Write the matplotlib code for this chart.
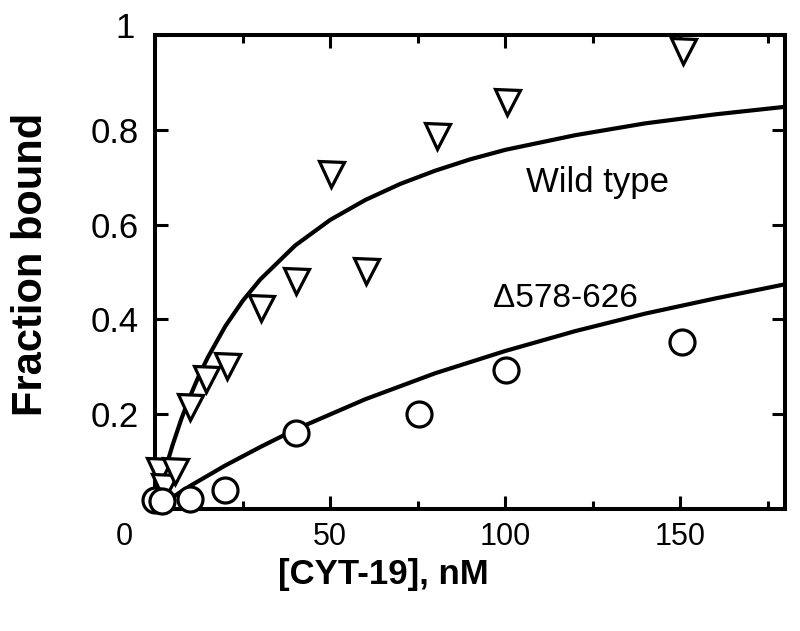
# Binding of CYT-19 to wild type vs. deletion mutant: fraction bound against concentration.

import numpy as np
import matplotlib.pyplot as plt
from matplotlib.ticker import MultipleLocator
import matplotlib.transforms as mtransforms

plt.rcParams['font.family'] = ['Liberation Sans', 'DejaVu Sans']

# data
wt_conc = [1.2, 2.5, 5.6, 9.8, 14.6, 20.4, 30.2, 40.1, 50.2, 60.1, 80.4, 100.4, 150.8]
wt_frac = [0.080, 0.045, 0.080, 0.214, 0.274, 0.302, 0.423, 0.481, 0.708, 0.501, 0.788, 0.859, 0.966]

mut_conc = [0.0, 1.8, 9.8, 19.8, 40.1, 75.4, 100.3, 150.6]
mut_frac = [0.018, 0.016, 0.020, 0.039, 0.159, 0.199, 0.293, 0.351]

# fitted curves
wt_fit_x = [3, 5, 7.5, 10, 12.5, 15, 20, 25, 30, 40, 50, 60, 70, 80, 90, 100, 120, 140, 160, 180]
wt_fit_y = [0.086, 0.135, 0.190, 0.238, 0.281, 0.319, 0.385, 0.439, 0.484, 0.556, 0.610,
            0.652, 0.686, 0.714, 0.738, 0.758, 0.789, 0.814, 0.833, 0.849]
mut_fit_x = [4.5, 10, 20, 30, 40, 60, 80, 100, 120, 140, 160, 180]
mut_fit_y = [0.022, 0.048, 0.091, 0.130, 0.167, 0.231, 0.286, 0.333, 0.375, 0.412, 0.444, 0.474]

xticks = [0, 50, 100, 150]
yticks = [0.2, 0.4, 0.6, 0.8, 1.0]
ytick_labels = ['0.2', '0.4', '0.6', '0.8', '1']

fig = plt.figure(figsize=(8, 6.31), dpi=100)
ax = fig.add_axes([0.194, 0.194, 0.7875, 0.75])

ax.plot(wt_fit_x, wt_fit_y, color='k', lw=3, zorder=2)
ax.plot(mut_fit_x, mut_fit_y, color='k', lw=3, zorder=2)
ax.plot(wt_conc, wt_frac, 'v', ms=18, mfc='white', mec='k', mew=2.3, zorder=3, clip_on=False)
ax.plot(mut_conc, mut_frac, 'o', ms=18, mfc='white', mec='k', mew=2.3, zorder=3, clip_on=False)

ax.text(106, 0.67, 'Wild type', fontsize=25, ha='left', va='baseline')
ax.text(96.4, 0.427, '\u0394578-626', fontsize=24, ha='left', va='baseline')

ax.set_xlim(0, 180)
ax.set_ylim(0, 1)
ax.set_xticks(xticks)
ax.xaxis.set_minor_locator(MultipleLocator(25))
ax.set_yticks(yticks)
ax.set_yticklabels(ytick_labels)

for s in ax.spines.values():
    s.set_linewidth(2.9)
ax.tick_params(which='both', direction='in', top=True, right=True, width=2.2)
ax.tick_params(which='major', length=9.5)
ax.tick_params(which='minor', length=5.5)
ax.tick_params(axis='x', labelsize=22, pad=10)
ax.tick_params(axis='y', labelsize=25, pad=12)

# corner "0" sits left of the origin, "1" a little above the top tick
fig.canvas.draw()
lbl = ax.get_xticklabels()[0]
lbl.set_transform(lbl.get_transform() + mtransforms.ScaledTranslation(-31/100, 0, fig.dpi_scale_trans))
lbl = ax.get_yticklabels()[-1]
lbl.set_transform(lbl.get_transform() + mtransforms.ScaledTranslation(-4/100, 10/100, fig.dpi_scale_trans))

ax.set_xlabel('[CYT-19], nM', fontsize=25, fontweight='bold')
ax.xaxis.set_label_coords(0.362, -0.105)
ax.set_ylabel('Fraction bound', fontsize=30, fontweight='bold')
ax.yaxis.set_label_coords(-0.165, 0.517)

plt.savefig('out.png', dpi=100)
